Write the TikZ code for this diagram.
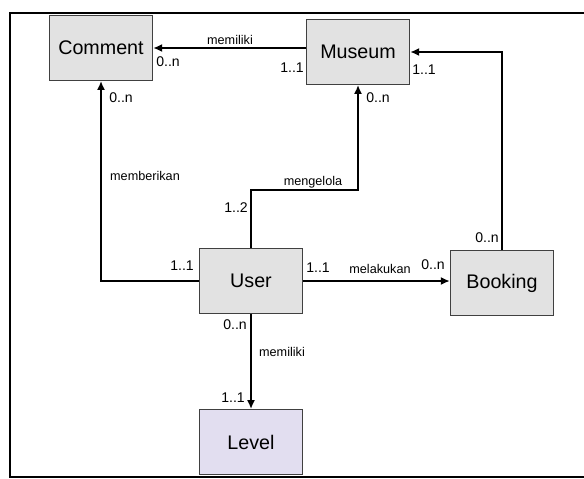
\documentclass[tikz,border=0pt]{standalone}
\usepackage{fontspec}
\setmainfont{Liberation Sans}
\usetikzlibrary{arrows.meta, positioning, calc}
\definecolor{boxgray}{RGB}{226,226,226}
\definecolor{levelpurp}{RGB}{226,222,240}

\begin{document}
\begin{tikzpicture}[x=0.025cm, y=-0.025cm,
    ent/.style={rectangle, draw=black!75, line width=1.1pt, fill=boxgray, minimum width=2.58cm, minimum height=1.62cm, font=\fontsize{14}{16}\selectfont, inner sep=0pt},
    rel/.style={-{Latex[length=2.2mm, width=2mm]}, line width=0.9pt},
    card/.style={font=\fontsize{10}{12}\selectfont, inner sep=1pt},
    verb/.style={font=\fontsize{9}{11}\selectfont, inner sep=1pt},
]
\useasboundingbox (0,0) rectangle (584,479);
\draw[line width=1pt] (584,13) -- (10,13) -- (10,477) -- (584,477);

\node[ent] (comment) at (101,48) {Comment};
\node[ent] (museum) at (358,52) {Museum};
\node[ent] (user) at (251,281) {User};
\node[ent] (booking) at (502,283) {Booking};
\node[ent, fill=levelpurp] (level) at (251,442) {Level};

\draw[rel] (museum.west |- comment.east) -- (comment.east);
\draw[rel] (user.west) -| (comment.south);
\draw[rel] (user.north) -- (user.north |- 0,190) -| (museum.south);
\draw[rel] (user.east) -- (user.east -| booking.west);
\draw[rel] (booking.north) |- (museum.east);
\draw[rel] (user) -- (level);

% Comment - Museum
\node[verb] (v1) at (230,40) {memiliki};
\node[card] (c1) at (168,62) {0..n};
\node[card] (c2) at (292,68) {1..1};
% User - Comment
\node[card] (c3) at (121,98) {0..n};
\node[verb] (v2) at (145,176) {memberikan};
\node[card] (c4) at (182,266) {1..1};
% User - Museum
\node[verb] (v3) at (313,182) {mengelola};
\node[card] (c5) at (236,208) {1..2};
\node[card] (c6) at (378,98) {0..n};
% User - Booking
\node[card] (c7) at (318,268) {1..1};
\node[verb] (v4) at (380,269) {melakukan};
\node[card] (c8) at (433,265) {0..n};
% Booking - Museum
\node[card] (c9) at (487,238) {0..n};
\node[card] (c10) at (424,70) {1..1};
% User - Level
\node[card] (c11) at (235,325) {0..n};
\node[verb] (v5) at (282,352) {memiliki};
\node[card] (c12) at (233,398) {1..1};
\end{tikzpicture}
\end{document}
